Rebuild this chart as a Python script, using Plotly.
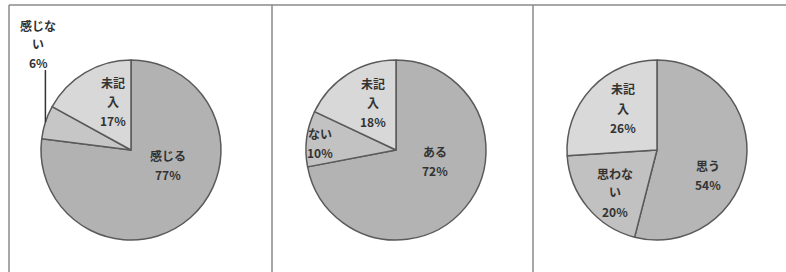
import math
import plotly.graph_objects as go

W, H = 786, 272

# ---- data ----
labels1 = ["感じる", "感じない", "未記入"]
values1 = [77, 6, 17]
texts1 = ["感じる<br>77%", "感じな<br>い<br>6%", "未記<br>入<br>17%"]

labels2 = ["ある", "ない", "未記入"]
values2 = [72, 10, 18]
texts2 = ["ある<br>72%", "ない<br>10%", "未記<br>入<br>18%"]

labels3 = ["思う", "思わない", "未記入"]
values3 = [54, 20, 26]
texts3 = ["思う<br>54%", "思わな<br>い<br>20%", "未記<br>入<br>26%"]

# ---- layout / style ----
colors1 = ["#b2b2b2", "#c6c6c6", "#d8d8d8"]
colors2 = ["#b3b3b3", "#c2c2c2", "#d8d8d8"]
colors3 = ["#b6b6b6", "#c1c1c1", "#d9d9d9"]
centers = [(131, 150), (396, 150), (657, 150)]
R = 90
# label block centres (pixels from top-left)
label_pos = [
    [(168, 165), (38, 44), (113, 101)],
    [(435, 161), (320, 143), (373, 102)],
    [(708, 175), (615, 192), (623, 108)],
]
LINE_H = 19
FONT = dict(family="Noto Sans CJK JP", size=12, color="#333333")

pies = [
    (labels1, values1, texts1, colors1),
    (labels2, values2, texts2, colors2),
    (labels3, values3, texts3, colors3),
]

fig = go.Figure()
annotations = []
shapes = []

for i, (labs, vals, txts, cols) in enumerate(pies):
    cx, cy = centers[i]
    fig.add_trace(go.Pie(
        labels=labs, values=vals, sort=False, direction="clockwise",
        rotation=0, textinfo="none", hoverinfo="label+percent",
        marker=dict(colors=cols, line=dict(color="#5a5a5a", width=1.5)),
        domain=dict(x=[(cx - R) / W, (cx + R) / W],
                    y=[(H - cy - R) / H, (H - cy + R) / H]),
        showlegend=False,
    ))
    for j, t in enumerate(txts):
        lx, ly = label_pos[i][j]
        lines = t.split("<br>")
        n = len(lines)
        for k, ln in enumerate(lines):
            yy = ly + (k - (n - 1) / 2) * LINE_H
            annotations.append(dict(
                x=lx / W, y=(H - yy) / H, xref="paper", yref="paper",
                text="<b>" + ln + "</b>", showarrow=False, font=FONT,
                xanchor="center", yanchor="middle",
            ))

# leader line for the small slice of pie 1 (computed from data)
tot = sum(values1)
mid = (values1[0] + values1[1] / 2) / tot * 2 * math.pi
cx, cy = centers[0]
ex = cx + R * math.sin(mid)
ey = cy - R * math.cos(mid)
shapes.append(dict(type="line", xref="paper", yref="paper",
                   x0=ex / W, y0=(H - ey) / H, x1=ex / W, y1=(H - 70) / H,
                   line=dict(color="#333333", width=1.5)))

# box borders
border = dict(color="#8a8a8a", width=1.5)
shapes.append(dict(type="line", xref="paper", yref="paper",
                   x0=9 / W, y0=(H - 5) / H, x1=1, y1=(H - 5) / H, line=border))
for bx in [9, 272, 533]:
    shapes.append(dict(type="line", xref="paper", yref="paper",
                       x0=bx / W, y0=(H - 5) / H, x1=bx / W, y1=0, line=border))

fig.update_layout(
    width=W, height=H, margin=dict(l=0, r=0, t=0, b=0),
    paper_bgcolor="white", plot_bgcolor="white",
    annotations=annotations, shapes=shapes,
)

fig.write_html(
    "out.html",
    config={"displayModeBar": False},
    post_script="document.body.style.margin='0';document.body.style.overflow='hidden';",
)
